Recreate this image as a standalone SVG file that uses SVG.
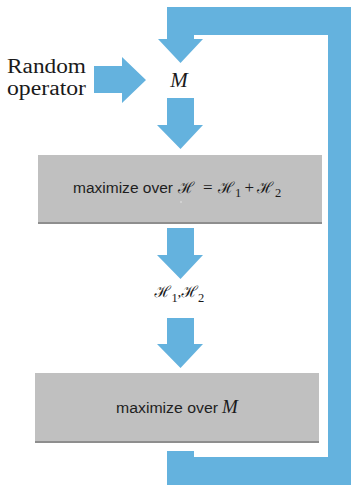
<svg xmlns="http://www.w3.org/2000/svg" width="351" height="488" viewBox="0 0 351 488">
<style>
.arrow{fill:#64b2de}
.box{fill:#c0c0c0}
.shadow{fill:#8e8e8e}
.sans{font-family:"Liberation Sans",Arial,sans-serif;font-size:15.5px;fill:#1e1e1e}
.serif{font-family:"Liberation Serif","Times New Roman",serif;fill:#1a1a1a}
.scr{font-family:"DejaVu Serif","Noto Sans",serif;font-style:italic;font-size:15.5px}
.sub{font-size:12.5px}
</style>
<rect width="351" height="488" fill="#ffffff"/>
<g id="connectors">
  <path class="arrow" d="M351 7 L167 7 L167 39 L158 39 L180.5 63 L203 39 L194 39 L194 35 L328 35 L328 457 L194 457 L194 451 L167 451 L167 485 L351 485 Z"/>
  <path class="arrow" d="M94 66 L122 66 L122 57 L146 80 L122 103 L122 93 L94 93 Z"/>
  <path class="arrow" d="M167 98 L194 98 L194 125 L203 125 L180.5 149 L157 125 L167 125 Z"/>
  <path class="arrow" d="M167 228 L194 228 L194 255 L203 255 L180.5 279 L157 255 L167 255 Z"/>
  <path class="arrow" d="M167 318 L194 318 L194 344 L203 344 L180.5 368 L157 344 L167 344 Z"/>
</g>
<g id="random-operator">
  <text class="serif" font-size="20.5" x="7" y="72.5" textLength="79" lengthAdjust="spacingAndGlyphs">Random</text>
  <text class="serif" font-size="20.5" x="7" y="95" textLength="79" lengthAdjust="spacingAndGlyphs">operator</text>
</g>
<g id="M-node">
  <text class="serif" font-size="21" font-style="italic" x="179" y="87" text-anchor="middle">M</text>
</g>
<g id="box-H">
  <rect class="shadow" x="38" y="156" width="284" height="68"/>
  <rect class="box" x="38" y="155" width="284" height="67"/>
  <text class="sans" x="73" y="193" textLength="100" lengthAdjust="spacingAndGlyphs">maximize over</text>
  <text class="serif" font-size="17" y="193"><tspan class="scr" x="178">ℋ</tspan><tspan x="203">=</tspan><tspan class="scr" x="218">ℋ</tspan><tspan class="sub" x="235" y="196.5">1</tspan><tspan x="244.5" y="193">+</tspan><tspan class="scr" x="257">ℋ</tspan><tspan class="sub" x="275" y="196.5">2</tspan></text>
  <circle cx="181" cy="202" r="0.8" fill="#e6e6e6"/>
</g>
<g id="H1H2">
  <text class="serif" font-size="15" y="297"><tspan class="scr" x="154.5">ℋ</tspan><tspan class="sub" x="171.5" y="301.5">1</tspan><tspan x="177.5" y="297">,</tspan><tspan class="scr" x="181.5">ℋ</tspan><tspan class="sub" x="198" y="301.5">2</tspan></text>
</g>
<g id="box-M">
  <rect class="shadow" x="35" y="374" width="284" height="69"/>
  <rect class="box" x="35" y="373" width="284" height="68"/>
  <text class="sans" x="116" y="413"><tspan textLength="102" lengthAdjust="spacingAndGlyphs">maximize over</tspan><tspan class="serif" font-size="19" font-style="italic" x="222">M</tspan></text>
</g>
</svg>
